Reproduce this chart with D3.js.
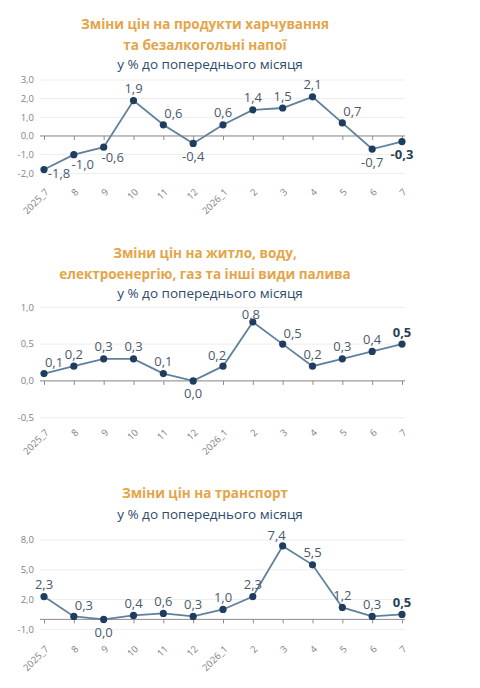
<!DOCTYPE html>
<html><head><meta charset="utf-8">
<script src="https://cdn.jsdelivr.net/npm/d3@7"></script>
<style>
body{margin:0;background:#fff;}
svg{display:block;}
</style></head>
<body>
<svg id="c" width="480" height="688"></svg>
<script>
const months = ["2025_7","8","9","10","11","12","2026_1","2","3","4","5","6","7"];

const title1 = ["Зміни цін на продукти харчування","та безалкогольні напої"];
const food = [-1.8,-1.0,-0.6,1.9,0.6,-0.4,0.6,1.4,1.5,2.1,0.7,-0.7,-0.3];
const foodTicks = [3,2,1,0,-1,-2];
const foodLabelPos = ["r","br","br","t","tr","b","t","t","t","t","tr","b","b"];

const title2 = ["Зміни цін на житло, воду,","електроенергію, газ та інші види палива"];
const housing = [0.1,0.2,0.3,0.3,0.1,0.0,0.2,0.8,0.5,0.2,0.3,0.4,0.5];
const housingTicks = [1.0,0.5,0.0,-0.5];
const housingLabelPos = ["tr","t","t","t","t","b","tl","tn","tr","t","t","t","t"];

const title3 = ["Зміни цін на транспорт"];
const transport = [2.3,0.3,0.0,0.4,0.6,0.3,1.0,2.3,7.4,5.5,1.2,0.3,0.5];
const transportTicks = [8,5,2,-1];
const transportLabelPos = ["t","tr","b","t","t","t","t","t","tl","t","t","t","t"];

const subtitle = "у % до попереднього місяця";

const svg = d3.select("#c");
const fmt = v => d3.format(".1f")(v).replace(".", ",").replace("−","-");

function panel(cfg){
  const g = svg.append("g");
  cfg.title.forEach((t,i)=>{
    g.append("text").attr("x",205).attr("y",cfg.titleY + i*cfg.lh)
      .attr("text-anchor","middle").attr("font-family","Open Sans, sans-serif")
      .attr("font-weight","bold").attr("font-size",13.5).attr("fill","#E4A549").text(t);
  });
  g.append("text").attr("x",210).attr("y",cfg.subY)
    .attr("text-anchor","middle").attr("font-family","Open Sans, sans-serif")
    .attr("font-size",13.5).attr("fill","#2E4B6B").text(subtitle);

  const x = d3.scalePoint().domain(months).range([44,402]);
  const y = d3.scaleLinear().domain(cfg.domain).range(cfg.range);

  g.append("g").selectAll("line").data(cfg.ticks).join("line")
    .attr("x1",40).attr("x2",405).attr("y1",d=>y(d)).attr("y2",d=>y(d))
    .attr("stroke","#ededed").attr("stroke-width",1);

  g.append("g").selectAll("text").data(cfg.ticks).join("text")
    .attr("x",34).attr("y",d=>y(d)).attr("dy","0.35em")
    .attr("text-anchor","end").attr("font-family","Open Sans, sans-serif")
    .attr("font-size",9.5).attr("fill","#7f7f7f").text(fmt);

  const ax = g.append("g").attr("transform",`translate(0,${y(0)})`)
    .call(d3.axisBottom(x).tickSize(4).tickFormat(""));
  ax.select(".domain").attr("stroke","#8c8c8c").attr("d",`M40,0H405`);
  ax.selectAll(".tick line").attr("stroke","#8c8c8c");

  const yb = y(cfg.domain[0]) + cfg.xlabOff;
  g.append("g").selectAll("text").data(months).join("text")
    .attr("transform",d=>`translate(${x(d)+3},${yb}) rotate(-45)`)
    .attr("text-anchor","end").attr("dy","0.35em")
    .attr("font-family","Open Sans, sans-serif").attr("font-size",9.5)
    .attr("fill","#808080").text(d=>d);

  const line = d3.line().x((d,i)=>x(months[i])).y(d=>y(d));
  g.append("path").datum(cfg.values).attr("d",line)
    .attr("fill","none").attr("stroke","#60809b").attr("stroke-width",1.8);

  g.append("g").selectAll("circle").data(cfg.values).join("circle")
    .attr("cx",(d,i)=>x(months[i])).attr("cy",d=>y(d)).attr("r",3.6)
    .attr("fill","#1f3d5f");

  const off = {t:[0,-12],tn:[-2,-8],b:[0,13],tr:[10,-11],tl:[-6,-11],r:[15,4],br:[9,10]};
  g.append("g").selectAll("text").data(cfg.values).join("text")
    .attr("x",(d,i)=>x(months[i]) + off[cfg.pos[i]][0])
    .attr("y",(d,i)=>y(d) + off[cfg.pos[i]][1])
    .attr("dy","0.35em").attr("text-anchor","middle")
    .attr("font-family","Open Sans, sans-serif").attr("font-size",13)
    .attr("font-weight",(d,i)=>i===cfg.values.length-1?"bold":"normal")
    .attr("fill",(d,i)=>i===cfg.values.length-1?"#2a3f56":"#4a5a6c")
    .text(fmt);
}

panel({title:title1,titleY:29,lh:21,subY:69,values:food,ticks:foodTicks,pos:foodLabelPos,
  domain:[-2,3],range:[173.3,80],xlabOff:17});
panel({title:title2,titleY:258,lh:20.5,subY:298,values:housing,ticks:housingTicks,pos:housingLabelPos,
  domain:[-0.5,1.0],range:[417.7,307.3],xlabOff:13});
panel({title:title3,titleY:498,lh:20,subY:518.5,values:transport,ticks:transportTicks,pos:transportLabelPos,
  domain:[-1,8],range:[629.3,540],xlabOff:18});
</script>
</body></html>
